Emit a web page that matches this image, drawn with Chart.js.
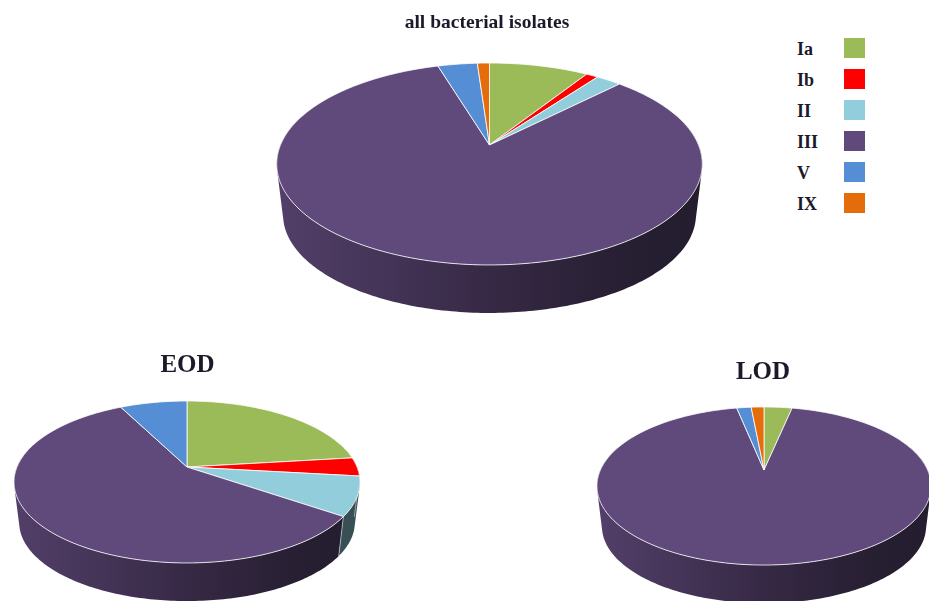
<!DOCTYPE html>
<html lang="en">

<head>
    <meta charset="UTF-8">
    <title>Serotypes</title>
    <script src="https://cdn.jsdelivr.net/npm/chart.js"></script>
    <style>
        html, body { margin: 0; width: 929px; height: 601px; overflow: hidden; background: #fff; }
        canvas { position: absolute; }
        #legend { position: absolute; left: 797px; top: 33px; font: bold 18px "Liberation Serif", serif; color: #1a1a2a; }
        .row { position: relative; height: 31px; width: 68px; line-height: 33px; }
        .swatch { position: absolute; left: 47px; top: 5px; width: 21px; height: 20px; }
    </style>
</head>

<body>
    <canvas id="allChart" width="434" height="330" style="left:270px;top:0"></canvas>
    <canvas id="eodChart" width="375" height="256" style="left:0;top:345px"></canvas>
    <canvas id="lodChart" width="346" height="251" style="left:590px;top:350px"></canvas>
    <div id="legend"></div>

<script>
    const serotypes = ['Ia', 'Ib', 'II', 'III', 'V', 'IX'];
    const colors = ['#9BBB59', '#FF0000', '#92CDDC', '#604A7B', '#558ED5', '#E46C0A'];
    const allValues = [9.05, 1.1, 2.3, 82.85, 3.6, 1.1];
    const eodValues = [23.1, 3.7, 7.8, 57.9, 7.5, 0];
    const lodValues = [3.3, 0, 0, 93.5, 1.7, 1.5];

    function shade(hex, f) {
        let n = parseInt(hex.slice(1), 16);
        return `rgb(${(n >> 16) * f},${((n >> 8) & 255) * f},${(n & 255) * f})`;
    }

    // perspective view of the pie disc, cx/cy is where the slices meet
    function project(g, angle, level) {
        let x = Math.cos(angle), y = Math.sin(angle);
        let d = 1 - g.p * y;
        let k = level ? g.shrink : 1;
        return {
            x: g.cx + g.a * k * x / d,
            y: g.cy + (level ? g.depth : 0) + g.b * k * y / d
        };
    }

    function sliceSide(ctx, g, arc, color) {
        let step = Math.PI / 180;
        let grad = ctx.createLinearGradient(g.cx - g.a, 0, g.cx + g.a, 0);
        grad.addColorStop(0, shade(color, 0.85));
        grad.addColorStop(0.5, shade(color, 0.56));
        grad.addColorStop(0.85, shade(color, 0.4));
        grad.addColorStop(1, shade(color, 0.38));
        ctx.fillStyle = grad;

        // one path of quads, all wound the same way, so no seams show between them
        ctx.beginPath();
        for (let t = arc.startAngle; t < arc.endAngle; t += step) {
            let t2 = Math.min(t + step, arc.endAngle);
            if (Math.sin(t) < -0.3 && Math.sin(t2) < -0.3) continue;
            let q = [project(g, t, 0), project(g, t2, 0), project(g, t2, 1), project(g, t, 1)];
            let area = 0;
            q.forEach((p, i) => {
                let n = q[(i + 1) % 4];
                area += p.x * n.y - n.x * p.y;
            });
            if (area < 0) q.reverse();
            q.forEach((p, i) => {
                if (i == 0) ctx.moveTo(p.x, p.y); else ctx.lineTo(p.x, p.y);
            });
            ctx.closePath();
        }
        ctx.fill();
    }

    function sliceTop(ctx, g, arc, color) {
        let step = Math.PI / 180;
        ctx.beginPath();
        ctx.moveTo(g.cx, g.cy);
        for (let t = arc.startAngle; t < arc.endAngle; t += step) {
            let p = project(g, t, 0);
            ctx.lineTo(p.x, p.y);
        }
        let end = project(g, arc.endAngle, 0);
        ctx.lineTo(end.x, end.y);
        ctx.closePath();
        ctx.fillStyle = color;
        ctx.fill();
        ctx.strokeStyle = 'rgba(255,255,255,0.8)';
        ctx.lineWidth = 1;
        ctx.stroke();
    }

    // replaces the flat arc drawing, the angles still come from the chart's own arc elements
    const tiltPlugin = {
        id: 'tilt',
        beforeDatasetDraw(chart, args, opts) {
            let ctx = chart.ctx;
            let arcs = chart.getDatasetMeta(0).data.filter(arc => arc.endAngle > arc.startAngle);
            ctx.save();
            arcs.forEach(arc => sliceSide(ctx, opts, arc, arc.options.backgroundColor));
            arcs.forEach(arc => {
                if (Math.sin(arc.endAngle) > 0 && arc.endAngle - arc.startAngle < 6) {
                    let p1 = project(opts, arc.endAngle, 0), p2 = project(opts, arc.endAngle, 1);
                    ctx.strokeStyle = 'rgba(255,255,255,0.5)';
                    ctx.lineWidth = 1;
                    ctx.beginPath();
                    ctx.moveTo(p1.x, p1.y);
                    ctx.lineTo(p2.x, p2.y);
                    ctx.stroke();
                }
            });
            arcs.forEach(arc => sliceTop(ctx, opts, arc, arc.options.backgroundColor));
            ctx.restore();
            return false;
        }
    };

    function makePie(id, values, title, size, pad, g) {
        new Chart(document.getElementById(id), {
            type: 'pie',
            plugins: [tiltPlugin],
            data: {
                labels: serotypes,
                datasets: [{ data: values, backgroundColor: colors, borderWidth: 0 }]
            },
            options: {
                responsive: false,
                animation: false,
                events: [],
                plugins: {
                    legend: { display: false },
                    tooltip: { enabled: false },
                    title: {
                        display: true,
                        text: title,
                        color: '#1a1a2a',
                        padding: { top: pad, bottom: 0 },
                        font: { family: '"Liberation Serif", serif', size: size, weight: 'bold' }
                    },
                    tilt: g
                }
            }
        });
    }

    makePie('allChart', allValues, 'all bacterial isolates', 19.5, 11,
        { cx: 219.5, cy: 145, a: 209, b: 97.4, p: 0.188, depth: 51.6, shrink: 0.97 });
    makePie('eodChart', eodValues, 'EOD', 25, 6,
        { cx: 187, cy: 122, a: 170, b: 78.2, p: 0.185, depth: 41, shrink: 0.97 });
    makePie('lodChart', lodValues, 'LOD', 25, 8,
        { cx: 174, cy: 120, a: 163.6, b: 75.8, p: 0.2025, depth: 41, shrink: 0.97 });

    serotypes.forEach((name, i) => {
        let row = document.createElement('div');
        row.className = 'row';
        row.textContent = name;
        let swatch = document.createElement('div');
        swatch.className = 'swatch';
        swatch.style.background = colors[i];
        row.appendChild(swatch);
        document.getElementById('legend').appendChild(row);
    });
</script>
</body>

</html>
